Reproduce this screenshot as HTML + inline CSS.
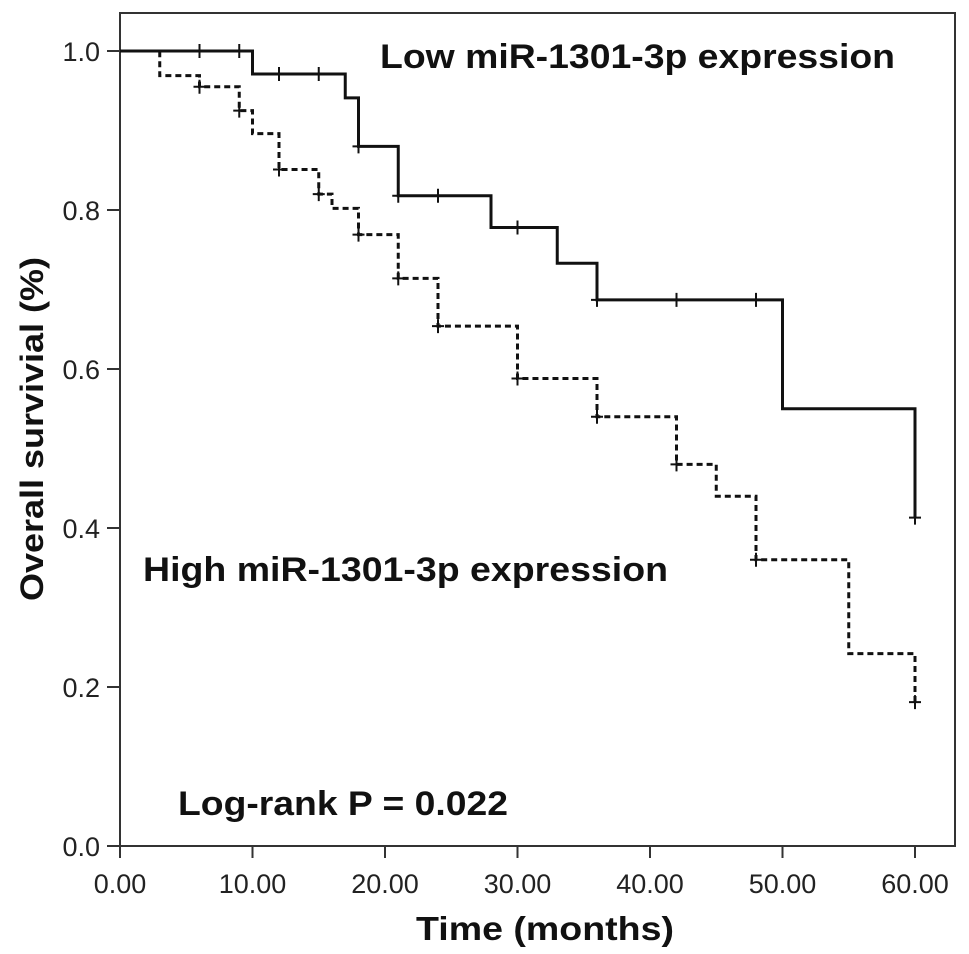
<!DOCTYPE html>
<html><head><meta charset="utf-8"><style>
html,body{margin:0;padding:0;background:#fff;}
svg{display:block;font-family:"Liberation Sans",Arial,sans-serif;}
</style></head><body>
<svg id="chart" width="969" height="954" viewBox="0 0 969 954">
<rect x="120" y="13" width="835" height="833" fill="none" stroke="#333" stroke-width="2"/>
<g id="axes"></g>
<g id="curves"></g>
<text x="380" y="68" font-size="34" font-weight="bold" fill="#111" textLength="515" lengthAdjust="spacingAndGlyphs">Low miR-1301-3p expression</text>
<text x="143" y="581" font-size="34" font-weight="bold" fill="#111" textLength="525" lengthAdjust="spacingAndGlyphs">High miR-1301-3p expression</text>
<text x="178" y="815" font-size="34" font-weight="bold" fill="#111" textLength="330" lengthAdjust="spacingAndGlyphs">Log-rank P = 0.022</text>
<text x="416" y="940" font-size="33" font-weight="bold" fill="#111" textLength="258" lengthAdjust="spacingAndGlyphs">Time (months)</text>
<text transform="translate(43,429) rotate(-90)" text-anchor="middle" font-size="32" font-weight="bold" fill="#111" textLength="344" lengthAdjust="spacingAndGlyphs">Overall survivial (%)</text>
</svg>
<script>
const xTicks = [0, 10, 20, 30, 40, 50, 60];
const xTickLabels = ["0.00", "10.00", "20.00", "30.00", "40.00", "50.00", "60.00"];
const yTicks = [0, 0.2, 0.4, 0.6, 0.8, 1.0];
const yTickLabels = ["0.0", "0.2", "0.4", "0.6", "0.8", "1.0"];
const lowTimes = [0, 10, 17, 18, 21, 28, 33, 36, 50, 60];
const lowSurv = [1.0, 0.971, 0.941, 0.880, 0.818, 0.778, 0.733, 0.687, 0.550, 0.413];
const lowCensorTimes = [6, 9, 12, 15, 18, 21, 24, 30, 36, 42, 48, 60];
const highTimes = [0, 3, 6, 9, 10, 12, 15, 16, 18, 21, 24, 30, 36, 42, 45, 48, 55, 60];
const highSurv = [1.0, 0.969, 0.955, 0.925, 0.896, 0.851, 0.820, 0.802, 0.769, 0.714, 0.654, 0.588, 0.540, 0.480, 0.440, 0.360, 0.242, 0.181];
const highCensorTimes = [6, 9, 12, 15, 18, 21, 24, 30, 36, 42, 48, 60];

const NS = "http://www.w3.org/2000/svg";
const xs = t => 120 + t * 13.25;
const ys = v => 846 - v * 795;
function mk(tag, attrs, parent) {
  const e = document.createElementNS(NS, tag);
  for (const k in attrs) e.setAttribute(k, attrs[k]);
  parent.appendChild(e);
  return e;
}
const axes = document.getElementById("axes");
xTicks.forEach((t, i) => {
  const l = mk("line", {x1: xs(t), x2: xs(t), y1: 846, y2: 858, stroke: "#333", "stroke-width": 2}, axes);
  
  
  const tx = mk("text", {x: xs(t), y: 893, "text-anchor": "middle", "font-size": 27, fill: "#222"}, axes);
  tx.textContent = xTickLabels[i];
  
  
});
yTicks.forEach((v, i) => {
  const l = mk("line", {x1: 107, x2: 120, y1: ys(v), y2: ys(v), stroke: "#333", "stroke-width": 2}, axes);
  
  
  const tx = mk("text", {x: 100, y: ys(v) + 10, "text-anchor": "end", "font-size": 27, fill: "#222"}, axes);
  tx.textContent = yTickLabels[i];
  
  
});
function survAt(times, surv, t) {
  let v = surv[0];
  for (let i = 0; i < times.length; i++) if (times[i] <= t) v = surv[i];
  return v;
}
function stepPath(times, surv) {
  let d = "M" + xs(times[0]) + "," + ys(surv[0]);
  for (let i = 1; i < times.length; i++) {
    d += " H" + xs(times[i]) + " V" + ys(surv[i]);
  }
  return d;
}
const curves = document.getElementById("curves");
const hp = mk("path", {d: stepPath(highTimes, highSurv), fill: "none", stroke: "#111", "stroke-width": 3, "stroke-dasharray": "6,4"}, curves);


const lp = mk("path", {d: stepPath(lowTimes, lowSurv), fill: "none", stroke: "#111", "stroke-width": 3}, curves);


function censors(times, surv, ct, name) {
  ct.forEach(t => {
    const v = survAt(times, surv, t);
    const x = xs(t), y = ys(v);
    const g = mk("path", {d: "M" + (x - 6) + "," + y + " H" + (x + 6) + " M" + x + "," + (y - 7) + " V" + (y + 7), stroke: "#111", "stroke-width": 2, fill: "none"}, curves);
    
    
  });
}
censors(lowTimes, lowSurv, lowCensorTimes, 'low-censor-mark');
censors(highTimes, highSurv, highCensorTimes, 'high-censor-mark');
</script>
</body></html>
